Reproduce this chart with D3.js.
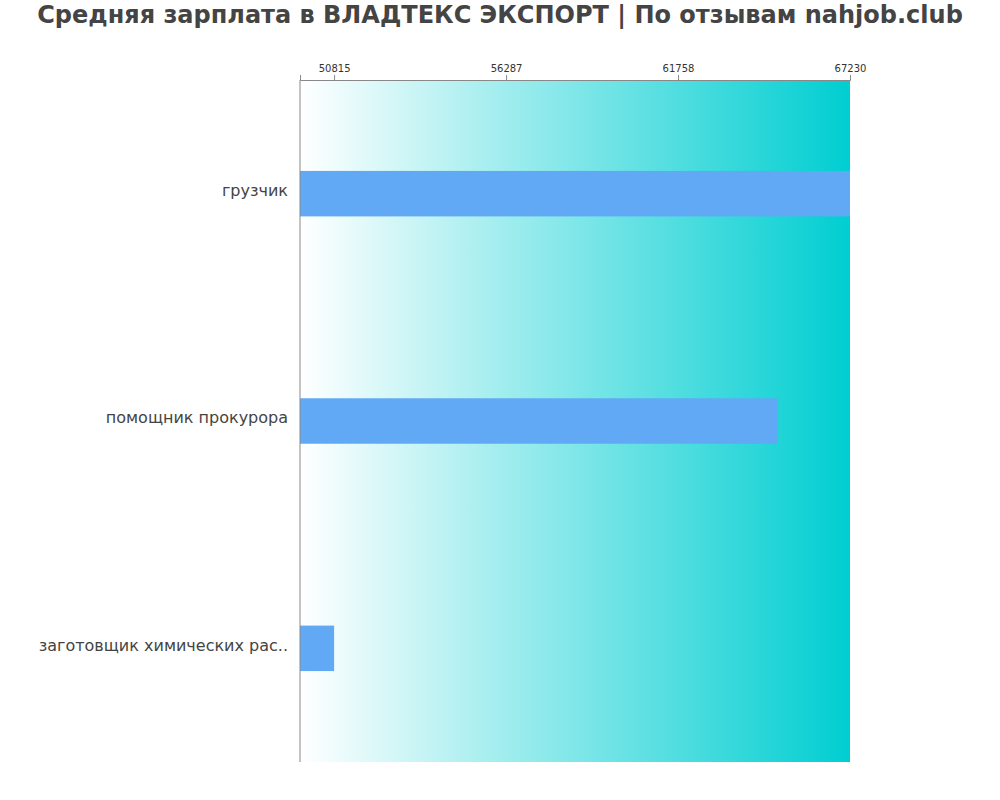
<!DOCTYPE html>
<html><head><meta charset="utf-8">
<script src="https://cdn.jsdelivr.net/npm/d3@7"></script>
<style>body{margin:0;background:#fff;font-family:"DejaVu Sans",sans-serif}</style>
</head><body><svg id="c" width="1000" height="800"></svg>
<script>
const categories = ["грузчик", "помощник прокурора", "заготовщик химических рас.."];
const values = [67230, 64940, 50815];
const tickValues = [50815, 56287, 61758, 67230];
const title = "Средняя зарплата в ВЛАДТЕКС ЭКСПОРТ | По отзывам nahjob.club";

const svg = d3.select("#c");
const m = {l:300, t:80, r:850, b:762};
const x = d3.scaleLinear().domain([49730, 67230]).range([m.l, m.r]);
const y = d3.scaleBand().domain(categories).range([m.t, m.b]).paddingInner(0.8).paddingOuter(0.4);

const grad = svg.append("defs").append("linearGradient").attr("id","g");
grad.append("stop").attr("offset","0%").attr("stop-color","#ffffff");
grad.append("stop").attr("offset","100%").attr("stop-color","#00ced1");
svg.append("rect").attr("x",m.l).attr("y",m.t).attr("width",m.r-m.l).attr("height",m.b-m.t).attr("fill","url(#g)");

svg.selectAll(".bar").data(values).join("rect")
  .attr("x",m.l).attr("y",(d,i)=>y(categories[i]))
  .attr("width",d=>x(d)-m.l).attr("height",y.bandwidth()).attr("fill","#61a8f5");

const ax = svg.append("g").attr("transform",`translate(0,${m.t})`)
  .call(d3.axisTop(x).tickValues(tickValues).tickSize(5).tickFormat(d3.format("d")));
ax.select(".domain").attr("stroke","#888");
ax.selectAll("line").attr("stroke","#888");
ax.selectAll("text").attr("font-size",10).attr("fill","#333").attr("font-family","DejaVu Sans");

svg.append("line").attr("x1",m.l).attr("x2",m.l).attr("y1",m.t).attr("y2",m.b).attr("stroke","#888");

svg.selectAll(".lab").data(categories).join("text")
  .attr("x",288).attr("y",d=>y(d)+y.bandwidth()/2).attr("dy","0.15em")
  .attr("text-anchor","end").attr("font-size",16).attr("fill","#444").text(d=>d);

svg.append("text").attr("x",500).attr("y",23).attr("text-anchor","middle")
  .attr("font-size",24).attr("font-weight","bold").attr("fill","#444").text(title);
</script></body></html>
